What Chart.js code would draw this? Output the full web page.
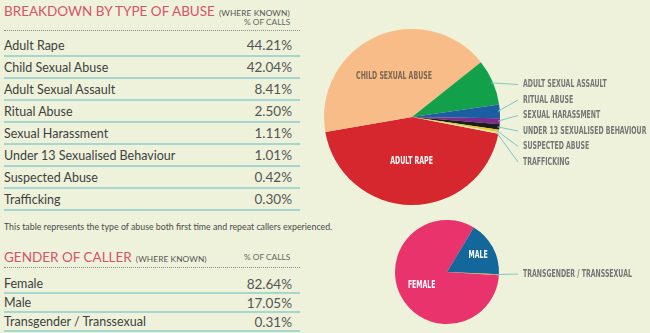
<!DOCTYPE html>
<html>
<head>
<meta charset="utf-8">
<script src="https://cdn.jsdelivr.net/npm/chart.js@4.4.1/dist/chart.umd.min.js"></script>
<style>
  html, body { margin: 0; padding: 0; }
  body {
    width: 650px; height: 333px; overflow: hidden; position: relative;
    background: #EEF2DA; font-family: Lato, 'Noto Sans', sans-serif; color: #3f3f3f;
  }
  .title { position: absolute; left: 4px; color: #D9526A; font-size: 13.5px; line-height: 16px; white-space: nowrap; }
  .title small { font-size: 8.3px; color: #555; letter-spacing: 0.1px; margin-left: 4px; }
  .colhead { position: absolute; font-size: 8.3px; color: #666; white-space: nowrap; }
  .dots { position: absolute; left: 4px; width: 296px; border-top: 1px dotted #8a8a8a; }
  .table { position: absolute; left: 4px; width: 296px; }
  .row { display: flex; justify-content: space-between; align-items: center; box-sizing: border-box;
         border-bottom: 2px solid #A6D6CF; font-size: 12.5px; padding-right: 8px; }
  .row .v { color: #555; font-size: 13.5px; }
  .note { position: absolute; left: 4px; top: 221px; font-size: 8.8px; color: #4a4a4a; white-space: nowrap; }
  .box { position: absolute; }
</style>
</head>
<body>

<div class="title" style="top:3px">BREAKDOWN BY TYPE OF ABUSE<small>(WHERE KNOWN)</small></div>
<div class="colhead" style="left:244px; top:17px">% OF CALLS</div>
<div class="dots" style="top:30px"></div>
<div class="table" id="abuseTable" style="top:35px"></div>
<div class="note">This table represents the type of abuse both first time and repeat callers experienced.</div>

<div class="title" style="top:249px">GENDER OF CALLER<small>(WHERE KNOWN)</small></div>
<div class="colhead" style="left:244px; top:252px">% OF CALLS</div>
<div class="dots" style="top:267px"></div>
<div class="table" id="genderTable" style="top:275px"></div>

<div class="box" style="left:310px; top:0; width:340px; height:240px"><canvas id="abusePie"></canvas></div>
<div class="box" style="left:380px; top:205px; width:270px; height:128px"><canvas id="genderPie"></canvas></div>

<script>
// Calls by type of abuse (%)
const abuseTypes = ['Adult Rape', 'Child Sexual Abuse', 'Adult Sexual Assault', 'Ritual Abuse',
  'Sexual Harassment', 'Under 13 Sexualised Behaviour', 'Suspected Abuse', 'Trafficking'];
const abusePct = [44.21, 42.04, 8.41, 2.50, 1.11, 1.01, 0.42, 0.30];

// Calls by gender of caller (%)
const genderTypes = ['Female', 'Male', 'Transgender / Transsexual'];
const genderPct = [82.64, 17.05, 0.31];

const abuseColors = ['#D6262E', '#F8BC88', '#12A04B', '#1B5EA2', '#7A2C8C', '#1C1C1C', '#E4C82C', '#EFE3AE'];
const genderColors = ['#E8336D', '#14679B', '#C9A15E'];

function fillTable(id, names, values, rowHeight) {
    const el = document.getElementById(id);
    names.forEach((name, i) => {
        const row = document.createElement('div');
        row.className = 'row';
        row.style.height = rowHeight + 'px';
        row.innerHTML = '<span>' + name + '</span><span class="v">' + values[i].toFixed(2) + '%</span>';
        el.appendChild(row);
    });
}
fillTable('abuseTable', abuseTypes, abusePct, 22);
fillTable('genderTable', genderTypes, genderPct, 19);

// no condensed face installed, so squeeze the bold caps horizontally
const labelFont = "bold 10px 'DejaVu Sans', sans-serif";
const squeeze = 0.62;

function narrowText(ctx, text, x, y, align) {
    ctx.save();
    ctx.translate(x, y);
    ctx.scale(squeeze, 1);
    ctx.textAlign = align;
    ctx.fillText(text, 0, 0);
    ctx.restore();
}

// Names inside the big slices, leader lines + names for the thin ones
const sliceLabels = {
    id: 'sliceLabels',
    afterDatasetsDraw(chart, args, opts) {
        const ctx = chart.ctx;
        const arcs = chart.getDatasetMeta(0).data;
        const names = chart.data.labels;
        ctx.save();
        ctx.font = labelFont;
        ctx.textBaseline = 'middle';

        (opts.inside || []).forEach(item => {
            const arc = arcs[item.index];
            const mid = (arc.startAngle + arc.endAngle) / 2;
            const x = arc.x + Math.cos(mid) * arc.outerRadius * item.r;
            const y = arc.y + Math.sin(mid) * arc.outerRadius * item.r;
            ctx.fillStyle = item.color;
            narrowText(ctx, names[item.index].toUpperCase(), x, y, 'center');
        });

        (opts.outside || []).forEach((index, i) => {
            const arc = arcs[index];
            const mid = (arc.startAngle + arc.endAngle) / 2;
            const sx = arc.x + Math.cos(mid) * (arc.outerRadius - 2);
            const sy = arc.y + Math.sin(mid) * (arc.outerRadius - 2);
            const ly = opts.top + i * opts.step;
            ctx.strokeStyle = '#7EC6C8';
            ctx.lineWidth = 1;
            ctx.beginPath();
            ctx.moveTo(sx, sy);
            ctx.lineTo(opts.lineEnd, ly);
            ctx.stroke();
            ctx.fillStyle = '#757575';
            narrowText(ctx, names[index].toUpperCase(), opts.lineEnd + 5, ly, 'left');
        });
        ctx.restore();
    }
};

function makePie(id, names, values, colors, rotation, padding, labelOpts) {
    return new Chart(document.getElementById(id), {
        type: 'pie',
        data: {
            labels: names,
            datasets: [{ data: values, backgroundColor: colors, borderWidth: 0 }]
        },
        options: {
            responsive: true,
            maintainAspectRatio: false,
            animation: false,
            rotation: rotation,
            layout: { padding: padding },
            plugins: {
                legend: { display: false },
                tooltip: { enabled: false },
                sliceLabels: labelOpts
            }
        },
        plugins: [sliceLabels]
    });
}

makePie('abusePie', abuseTypes, abusePct, abuseColors, 101,
    { left: 14, top: 29, right: 150, bottom: 35 },
    {
        inside: [{ index: 0, r: 0.5, color: '#ffffff' }, { index: 1, r: 0.5, color: '#7C6651' }],
        outside: [2, 3, 4, 5, 6, 7], top: 84.5, step: 15.5, lineEnd: 208
    });

makePie('genderPie', genderTypes, genderPct, genderColors, 93.5,
    { left: 15, top: 15, right: 151, bottom: 9 },
    {
        inside: [{ index: 0, r: 0.55, color: '#ffffff' }, { index: 1, r: 0.68, color: '#ffffff' }],
        outside: [2], top: 69, step: 0, lineEnd: 138
    });
</script>
</body>
</html>
